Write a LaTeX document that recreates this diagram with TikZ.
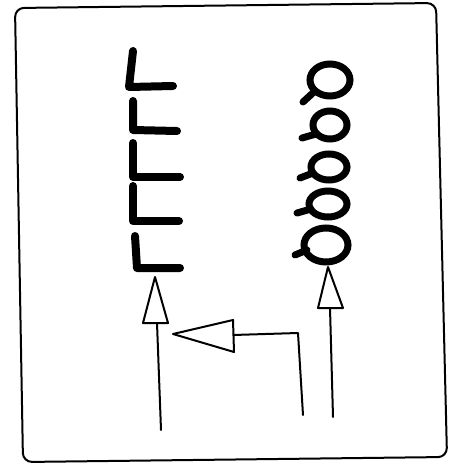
\documentclass[tikz,border=0pt]{standalone}
\begin{document}
\begin{tikzpicture}[x=1pt,y=-1pt,
  frame/.style={line width=2pt,rounded corners=9pt},
  ell/.style={line width=8pt,line cap=round,line join=round},
  loopy/.style={line width=7pt,line cap=round},
  thin/.style={line width=2pt,line cap=round,line join=round},
  tri/.style={line width=2pt,fill=white,line join=round}]
\useasboundingbox (0,0) rectangle (456,463);
\fill[white] (0,0) rectangle (456,463);
% frame
\draw[frame] (15,8) -- (436,3) -- (447,457) -- (23,462) -- cycle;
% L strokes
\draw[ell] (133,51) -- (129,87) -- (173,86);
\draw[ell] (133,101) -- (133,130) -- (177,131);
\draw[ell] (133,143) -- (133,177) -- (180,177);
\draw[ell] (133,186) -- (133,221) -- (179,221);
\draw[ell] (135,236) -- (137,268) -- (180,268);
% loops
\draw[loopy] (330,80) ellipse [x radius=20, y radius=16];
\draw[loopy] (315,91) -- (303,102);
\draw[loopy] (330,125) ellipse [x radius=17, y radius=14];
\draw[loopy] (316,134) -- (302,138);
\draw[loopy] (329,167) ellipse [x radius=18, y radius=13];
\draw[loopy] (313,173) -- (300,178);
\draw[loopy] (328,204) ellipse [x radius=19, y radius=13];
\draw[loopy] (311,209) -- (297,213);
\draw[loopy] (326,245) ellipse [x radius=22, y radius=17];
\draw[loopy] (307,250) -- (295,255);
% left arrow
\coordinate (la1) at (161,430);
\coordinate (la0) at (157,323);
\draw[thin] (la1) -- (la0);
\draw[tri] (155,277) -- (168,323) -- (143,323) -- cycle;
% right arrow
\coordinate (ra1) at (333,417);
\coordinate (ra0) at (330,308);
\draw[thin] (ra1) -- (ra0);
\draw[tri] (328,267) -- (343,308) -- (318,308) -- cycle;
% middle elbow arrow
\coordinate (ma1) at (303,415);
\coordinate (ma2) at (298,333);
\coordinate (ma3) at (233,335);
\draw[thin] (ma1) -- (ma2) -- (ma3);
\draw[tri] (173,334) -- (233,320) -- (234,352) -- cycle;
\end{tikzpicture}
\end{document}
